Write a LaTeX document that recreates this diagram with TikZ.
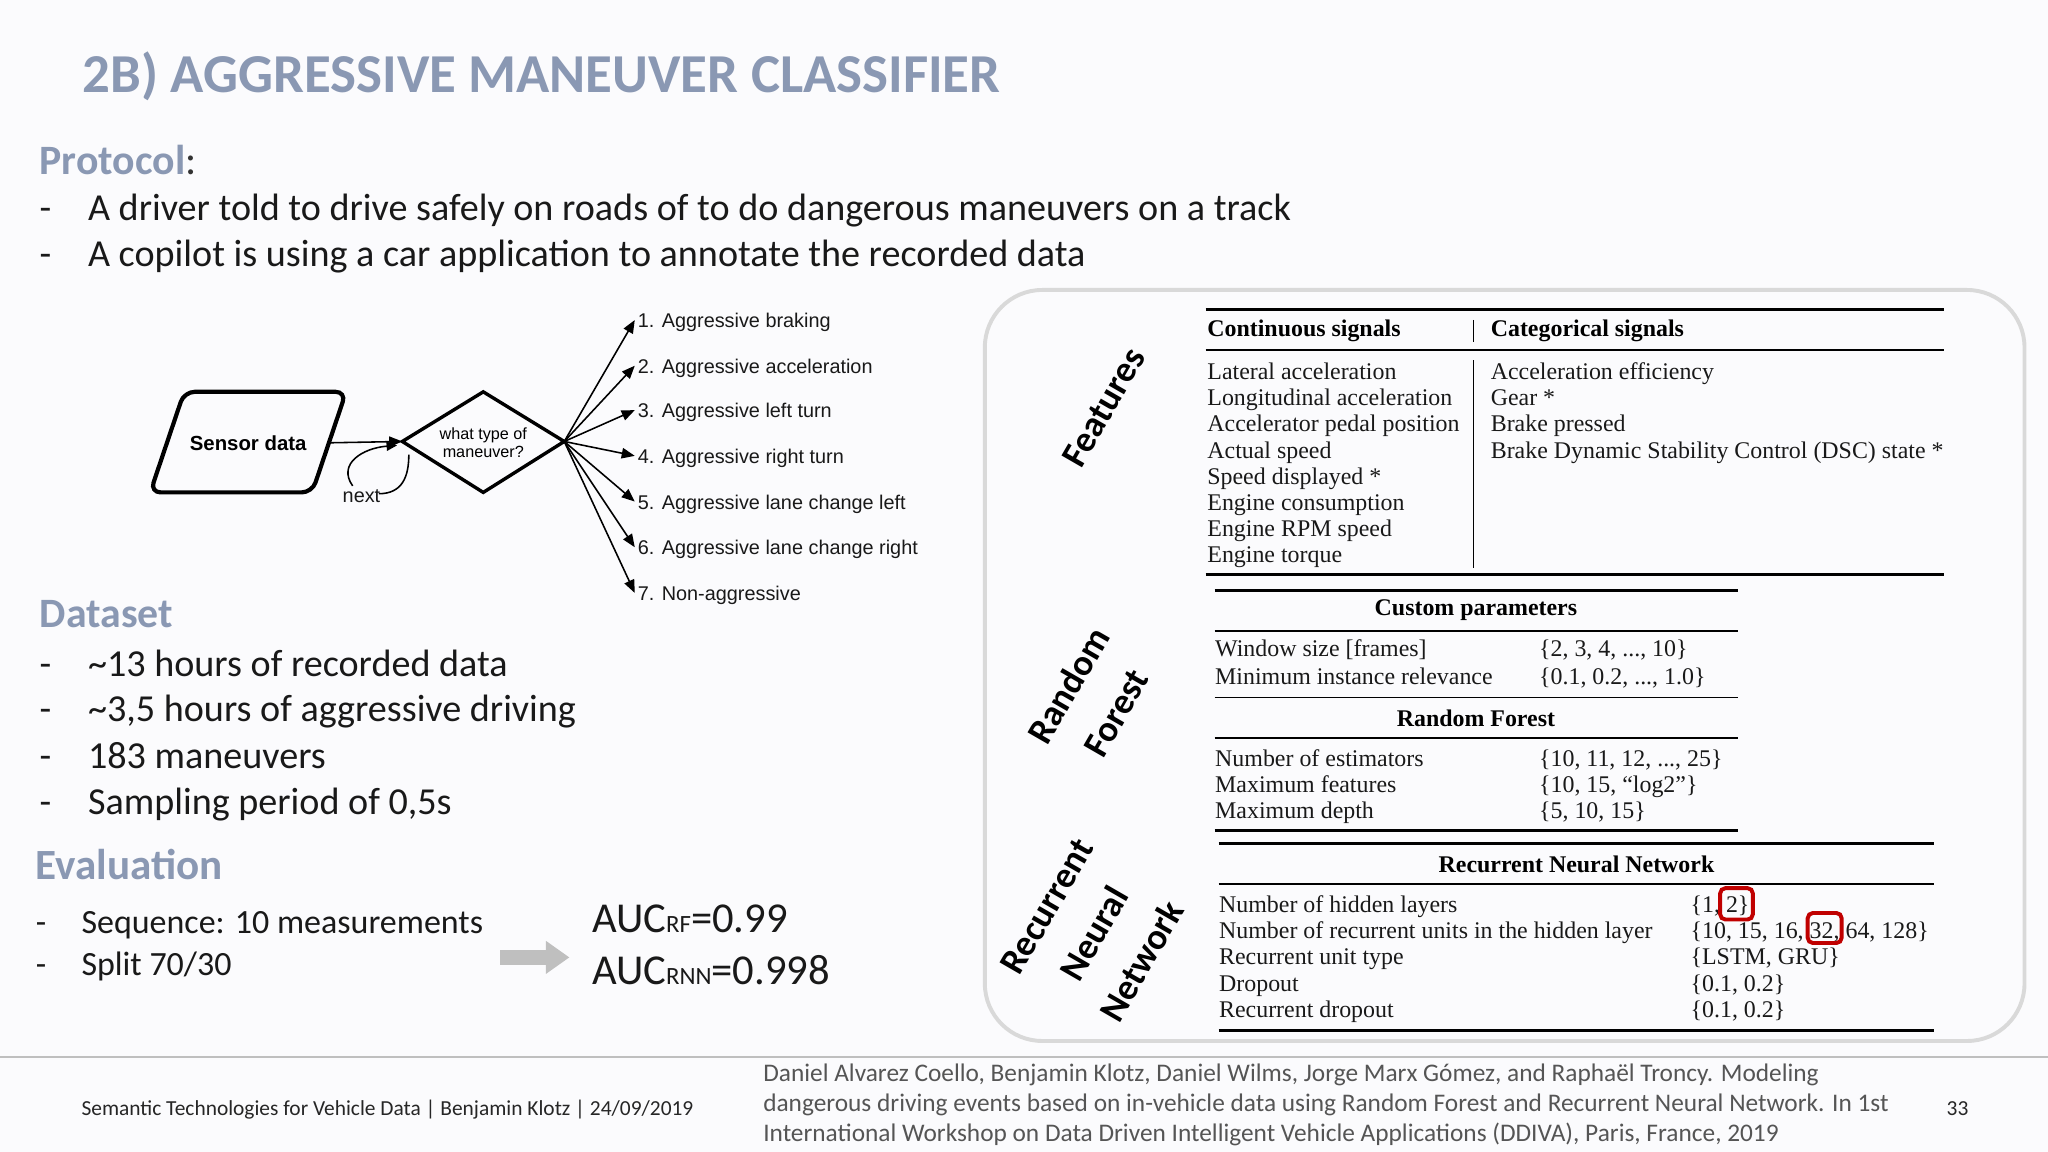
\documentclass[tikz,border=0pt]{standalone}
\usepackage{fontspec}
\setmainfont{Carlito}
\newfontfamily\tms{Liberation Serif}
\newfontfamily\arl{Liberation Sans}
\usetikzlibrary{shapes.geometric,arrows.meta}
\definecolor{ttl}{HTML}{8A98B3}
\definecolor{bg}{HTML}{FBFBFD}
\definecolor{rbox}{HTML}{C00000}
\definecolor{foot}{HTML}{555555}
\tikzset{
 txt/.style={anchor=west,inner sep=0pt,text=black!90,text height=1.5ex,text depth=0.3ex},
 body/.style={txt,font=\fontsize{14.6}{17}\selectfont},
 head/.style={txt,text=ttl,font=\fontsize{16}{19}\selectfont\bfseries},
 tb/.style={txt,font=\tms\fontsize{9.15}{10}\selectfont},
 tbh/.style={inner sep=0pt,font=\tms\bfseries\fontsize{9.15}{10}\selectfont},
 dl/.style={txt,font=\arl\fontsize{7.6}{9}\selectfont},
 rot/.style={align=center,rotate=60,font=\bfseries\fontsize{14}{21}\selectfont,inner sep=0pt},
 fan/.style={-{Triangle[length=5pt,width=4pt]},line width=0.6pt},
 rl/.style={line width=0.6pt},
 rlt/.style={line width=1pt},
}
\begin{document}
\begin{tikzpicture}[x=0.5pt,y=-0.5pt]
\fill[bg] (0,0) rectangle (1568,882);
\useasboundingbox (0,0) rectangle (1568,882);
\node[txt,text=ttl,font=\fontsize{21}{24}\selectfont\bfseries] (title) at (63,65) {2B) AGGRESSIVE MANEUVER CLASSIFIER};
\node[head] (prot) at (30,128) {Protocol\textcolor{black!80}{\mdseries:}};
\node[body] (d1) at (30,163) {-}; \node[body] (p1) at (67,163) {A driver told to drive safely on roads of to do dangerous maneuvers on a track};
\node[body] (d2) at (30,198) {-}; \node[body] (p2) at (67,198) {A copilot is using a car application to annotate the recorded data};
% diagram
\draw[line width=1.6pt,rounded corners=4pt] (141,300) -- (265,300) -- (239,377) -- (115,377) -- cycle;
\node[font=\arl\bfseries\fontsize{7.8}{9}\selectfont,inner sep=0pt] (sd) at (190,339) {Sensor data};
\coordinate (sde) at (253,339);
\draw[line width=1.3pt] (308,338) -- (370,300) -- (432,338) -- (370,377) -- cycle;
\node[align=center,inner sep=0pt,font=\arl\fontsize{6.2}{7}\selectfont] (dm) at (370,339) {what type of\\maneuver?};
\coordinate (dmw) at (308,338);
\coordinate (fp) at (432,338);
\draw[fan] (sde) -- (dmw);
\node[dl] (n) at (262,379) {next};
\coordinate (n1) at (270,372);
\coordinate (n2) at (290,378);
\draw[line width=0.6pt,-{Triangle[length=4pt,width=3.5pt]}] (n1) .. controls (258,355) and (278,343) .. (304,341);
\draw[line width=0.6pt] (n2) .. controls (308,378) and (313,365) .. (313,348);
\foreach \i/\y/\t in {1/245/Aggressive braking,2/280/Aggressive acceleration,3/314/Aggressive left turn,4/349/Aggressive right turn,5/384/Aggressive lane change left,6/419/Aggressive lane change right,7/454/Non-aggressive}{
 \node[dl] (o\i) at (488,\y) {\i. \t};
 \draw[fan] (fp) -- ([xshift=-1pt]o\i.west);
}
% dataset
\node[head] (ds) at (30,475) {Dataset};
\foreach \y/\t [count=\k] in {512/{\textasciitilde13 hours of recorded data},547/{\textasciitilde3,5 hours of aggressive driving},583/183 maneuvers,618/{Sampling period of 0,5s}}{
 \node[body] (dd\k) at (30,\y) {-}; \node[body] (dt\k) at (67,\y) {\t};}
\node[head,font=\fontsize{16.5}{19}\selectfont\bfseries] (ev) at (27,668) {Evaluation};
\node[txt,font=\fontsize{13}{15}\selectfont] (e0) at (27,709) {-};
\node[txt,font=\fontsize{13}{15}\selectfont] (e1) at (62,709) {Sequence: 10 measurements};
\node[txt,font=\fontsize{13}{15}\selectfont] (e2) at (27,741) {-};
\node[txt,font=\fontsize{13}{15}\selectfont] (e3) at (62,741) {Split 70/30};
\coordinate (ga) at (383,733); \coordinate (gb) at (436,733);
\draw[line width=6pt,black!25,-{Triangle[length=9pt,width=12pt]}] (ga) -- (gb);
\node[txt,font=\fontsize{16.3}{18}\selectfont] (auc1) at (453,708) {AUC{\fontsize{9.5}{10}\selectfont RF}=0.99};
\node[txt,font=\fontsize{16.3}{18}\selectfont] (auc2) at (453,748) {AUC{\fontsize{9.5}{10}\selectfont RNN}=0.998};
% box
\draw[black!15,line width=1.5pt,rounded corners=22pt] (754,222) rectangle (1550,797);
\node[rot] (rf1) at (845,312) {Features};
\node[rot] (rf2) at (836,535) {Random\\Forest};
\node[rot] (rf3) at (838,715) {Recurrent\\Neural\\Network};
% table 1
\draw[rlt] (923,237) -- (1488,237);
\draw[rl] (923,268) -- (1488,268);
\draw[rlt] (923,440) -- (1488,440);
\draw[rl] (1128,245) -- (1128,262);
\draw[rl] (1128,276) -- (1128,435);
\node[tbh,anchor=west] (h1) at (924,253) {Continuous signals};
\node[tbh,anchor=west] (h2) at (1141,253) {Categorical signals};
\foreach \t [count=\k] in {Lateral acceleration,Longitudinal acceleration,Accelerator pedal position,Actual speed,Speed displayed *,Engine consumption,Engine RPM speed,Engine torque}
 \node[tb] (c\k) at (924,265+20*\k) {\t};
\foreach \t [count=\k] in {Acceleration efficiency,Gear *,Brake pressed,Brake Dynamic Stability Control (DSC) state *}
 \node[tb] (g\k) at (1141,265+20*\k) {\t};
% table 2
\draw[rlt] (930,452) -- (1331,452);
\draw[rl] (930,483) -- (1331,483);
\draw[rl] (930,534) -- (1331,534);
\draw[rl] (930,565) -- (1331,565);
\draw[rlt] (930,636) -- (1331,636);
\node[tbh] (cp) at (1130,467) {Custom parameters};
\node[tbh] (rfh) at (1130,550) {Random Forest};
\node[tb] (a1) at (930,497) {Window size [frames]};
\node[tb] (a2) at (930,518) {Minimum instance relevance};
\node[tb] (b1) at (1178,497) {\{2, 3, 4, ..., 10\}};
\node[tb] (b2) at (1178,518) {\{0.1, 0.2, ..., 1.0\}};
\node[tb] (a3) at (930,581) {Number of estimators};
\node[tb] (a4) at (930,601) {Maximum features};
\node[tb] (a5) at (930,621) {Maximum depth};
\node[tb] (b3) at (1178,581) {\{10, 11, 12, ..., 25\}};
\node[tb] (b4) at (1178,601) {\{10, 15, “log2”\}};
\node[tb] (b5) at (1178,621) {\{5, 10, 15\}};
% table 3
\draw[rlt] (933,646) -- (1481,646);
\draw[rl] (933,677) -- (1481,677);
\draw[rlt] (933,789) -- (1481,789);
\node[tbh] (rnn) at (1207,662) {Recurrent Neural Network};
\foreach \t/\v [count=\k] in {Number of hidden layers/{\{1, 2\}},Number of recurrent units in the hidden layer/{\{10, 15, 16, 32, 64, 128\}},Recurrent unit type/{\{LSTM, GRU\}},Dropout/{\{0.1, 0.2\}},Recurrent dropout/{\{0.1, 0.2\}}}{
 \node[tb] (r\k) at (933,673+20*\k) {\t};
 \node[tb] (v\k) at (1294,673+20*\k) {\v};}
\draw[rbox,line width=1.5pt,rounded corners=2pt] (1317,680) rectangle (1342,704);
\draw[rbox,line width=1.5pt,rounded corners=2pt] (1384,699) rectangle (1410,722);
% footer
\draw[black!25,line width=0.8pt] (0,809) -- (1568,809);
\node[txt,text=black!85,font=\fontsize{8.2}{10}\selectfont] (fl) at (62,848) {Semantic Technologies for Vehicle Data | Benjamin Klotz | 24/09/2019};
\node[anchor=north west,inner sep=0pt,text=foot,align=left,font=\fontsize{9.7}{11.6}\selectfont] (cit) at (584,814) {Daniel Alvarez Coello, Benjamin Klotz, Daniel Wilms, Jorge Marx Gómez, and Raphaël Troncy. Modeling\\dangerous driving events based on in-vehicle data using Random Forest and Recurrent Neural Network. In 1st\\International Workshop on Data Driven Intelligent Vehicle Applications (DDIVA), Paris, France, 2019};
\node[txt,text=black!85,font=\fontsize{8.2}{10}\selectfont] (pg) at (1490,848) {33};
\end{tikzpicture}
\end{document}
